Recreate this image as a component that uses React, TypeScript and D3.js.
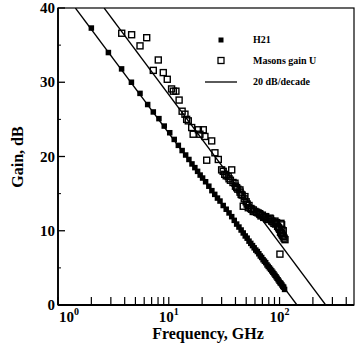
import React, { useRef, useEffect } from "react";
import * as d3 from "d3";

// |H21| measured points (GHz, dB)
const h21Freq = [2.0, 2.85, 3.75, 4.6, 5.5, 6.45, 7.25, 8.15, 9.1, 10.2, 11.2, 12.2, 13.2, 14.2, 15.2, 16.2, 17.2, 18.2, 19.2, 20.2,
  21.5, 23, 24.5, 26, 27.5, 29, 31, 33, 35, 37, 39, 41, 43, 45, 47, 49, 51, 53, 55, 57, 59, 61, 63, 65, 67, 69, 71, 73, 75, 77,
  79, 81, 83, 85, 87, 89, 91, 93, 95, 97, 99, 101, 103, 105, 107, 109, 111];
const h21Gain = [37.3, 34.0, 31.8, 30.0, 28.5, 27.0, 26.0, 25.1, 24.1, 23.2, 22.3, 21.5, 20.8, 20.2, 19.6, 19.0, 18.5, 18.0, 17.5, 17.1,
  16.6, 16.0, 15.4, 14.9, 14.4, 14.0, 13.4, 12.9, 12.4, 11.9, 11.4, 10.9, 10.5, 10.1, 9.7, 9.3, 9.0, 8.6, 8.3, 8.0, 7.7, 7.4, 7.2, 6.9, 6.6, 6.4, 6.1, 5.9, 5.7, 5.4,
  5.2, 5.0, 4.8, 4.6, 4.4, 4.2, 4.0, 3.8, 3.6, 3.4, 3.2, 3.0, 2.9, 2.7, 2.5, 2.4, 2.1];

// Mason's unilateral gain U (GHz, dB)
const uFreq = [3.76, 4.62, 5.5, 6.32, 7.25, 8.04, 8.92, 9.69, 10.6, 11.0, 11.6, 12.4, 13.2, 14.0, 14.5, 15.0, 16.1, 16.6, 18.5, 19.1,
  20.5, 21.2, 22.0, 24.4, 26.1, 28.0, 30.0, 31, 32, 33, 34.4, 35, 36, 37.0, 38, 39.6, 40, 41, 42, 43.9, 44, 45, 46, 47.0, 48, 48.7,
  50, 51, 52.2, 53, 55, 56, 57.9, 58, 60, 62, 64, 66, 66.6, 68, 70, 72, 73.8, 75, 77, 79, 81.9, 83, 85, 87, 89, 90.9, 92, 94,
  96, 98, 100, 100.8, 102, 103, 104, 104.4, 105, 106, 108, 108, 110, 112];
const uGain = [36.6, 36.4, 34.9, 36.0, 31.6, 33.0, 31.3, 30.4, 29.1, 28.8, 28.8, 27.6, 26.1, 25.7, 25.0, 24.8, 23.9, 23.0, 23.6, 23.0,
  23.6, 22.7, 19.5, 22.1, 20.5, 19.6, 18.2, 18.0, 17.6, 17.4, 17.3, 17.0, 16.8, 18.2, 16.5, 16.4, 16.0, 15.8, 15.6, 15.5, 15.2, 14.9, 14.8, 13.3, 14.3, 14.6,
  13.9, 13.6, 13.1, 13.4, 13.0, 12.9, 12.6, 12.8, 12.6, 12.5, 12.4, 12.3, 12.2, 12.0, 12.1, 11.8, 11.9, 11.9, 11.6, 11.5, 11.7, 11.6, 11.3, 11.2, 11.0, 11.3, 10.9, 11.1,
  10.6, 10.4, 10.2, 6.85, 9.8, 11.0, 9.6, 10.8, 10.1, 9.4, 9.2, 10.0, 9.0, 8.8];

// 20 dB/decade lines: frequency where each reaches 0 dB
const fitCutoffs = [143.6, 261];
const yTicks = [0, 10, 20, 30, 40];
const yMinorTicks = [5, 15, 25, 35];
const xDecades = [0, 1, 2];

const font = "'Liberation Serif', 'Times New Roman', serif";

const App = () => {
  const svgRef = useRef(null);
  const width = 356;
  const height = 348;
  const left = 58, right = 354, top = 8, bottom = 305;

  useEffect(() => {
    const svg = d3.select(svgRef.current);
    svg.selectAll("*").remove();

    const x = d3.scaleLog().domain([1, 470]).range([left, right]);
    const y = d3.scaleLinear().domain([0, 40]).range([bottom, top]);

    svg.append("clipPath").attr("id", "plotclip")
      .append("rect").attr("x", left).attr("y", top).attr("width", right - left).attr("height", bottom - top);

    // frame
    svg.append("rect")
      .attr("x", left).attr("y", top).attr("width", right - left).attr("height", bottom - top)
      .attr("fill", "none").attr("stroke", "#000").attr("stroke-width", 1.2);
    svg.append("line").attr("x1", left).attr("x2", left).attr("y1", top).attr("y2", bottom)
      .attr("stroke", "#000").attr("stroke-width", 1.8);
    svg.append("line").attr("x1", left).attr("x2", right).attr("y1", bottom).attr("y2", bottom)
      .attr("stroke", "#000").attr("stroke-width", 1.8);

    // y ticks
    const gy = svg.append("g");
    gy.selectAll("line.major").data(yTicks).join("line")
      .attr("x1", left).attr("x2", left + 7).attr("y1", d => y(d)).attr("y2", d => y(d))
      .attr("stroke", "#000").attr("stroke-width", 1.3);
    gy.selectAll("line.minor").data(yMinorTicks).join("line").attr("class", "minor")
      .attr("x1", left).attr("x2", left + 3).attr("y1", d => y(d)).attr("y2", d => y(d))
      .attr("stroke", "#000").attr("stroke-width", 1);
    gy.selectAll("text").data(yTicks).join("text")
      .attr("x", left - 3).attr("y", d => y(d) + 5)
      .attr("text-anchor", "end").attr("font-family", font).attr("font-weight", "bold").attr("font-size", 15)
      .text(d => d);

    // x ticks
    const xTickVals: number[] = [];
    xDecades.forEach(dec => {
      for (let k = 1; k <= 9; k++) {
        const v = k * Math.pow(10, dec);
        if (v <= 470) xTickVals.push(v);
      }
    });
    svg.append("g").selectAll("line").data(xTickVals).join("line")
      .attr("x1", d => x(d)).attr("x2", d => x(d)).attr("y1", bottom).attr("y2", bottom - 8)
      .attr("stroke", "#000").attr("stroke-width", 1.2);

    const xl = svg.append("g").selectAll("text").data(xDecades).join("text")
      .attr("x", (d, i) => x(Math.pow(10, d)) + (i === 0 ? 11 : 0))
      .attr("y", 322)
      .attr("text-anchor", "middle").attr("font-family", font).attr("font-weight", "bold").attr("font-size", 15);
    xl.append("tspan").text("10");
    xl.append("tspan").attr("dy", -7).attr("font-size", 10).text(d => d);

    // axis titles
    svg.append("text").attr("x", 208).attr("y", 339).attr("text-anchor", "middle")
      .attr("font-family", font).attr("font-weight", "bold").attr("font-size", 16)
      .text("Frequency, GHz");
    svg.append("text").attr("transform", "translate(23,157) rotate(-90)").attr("text-anchor", "middle")
      .attr("font-family", font).attr("font-weight", "bold").attr("font-size", 16)
      .text("Gain, dB");

    const plot = svg.append("g").attr("clip-path", "url(#plotclip)");

    // 20 dB/decade lines
    const line = d3.line<[number, number]>().x(d => x(d[0])).y(d => y(d[1]));
    fitCutoffs.forEach(fc => {
      const pts: [number, number][] = [[fc / 100, 40], [fc, 0]];
      plot.append("path").attr("d", line(pts)).attr("fill", "none")
        .attr("stroke", "#000").attr("stroke-width", 1.3);
    });

    // Mason's U (open squares)
    const s1 = 6;
    plot.append("g").selectAll("rect").data(uFreq).join("rect")
      .attr("x", d => x(d) - s1 / 2).attr("y", (d, i) => y(uGain[i]) - s1 / 2)
      .attr("width", s1).attr("height", s1)
      .attr("fill", "none").attr("stroke", "#000").attr("stroke-width", 1.4);

    // H21 (filled squares)
    const s2 = 5.5;
    plot.append("g").selectAll("rect").data(h21Freq).join("rect")
      .attr("x", d => x(d) - s2 / 2).attr("y", (d, i) => y(h21Gain[i]) - s2 / 2)
      .attr("width", s2).attr("height", s2).attr("fill", "#000");

    // legend
    const lg = svg.append("g").attr("font-family", font).attr("font-weight", "bold").attr("font-size", 10);
    lg.append("rect").attr("x", 218.5).attr("y", 37.5).attr("width", 5).attr("height", 5).attr("fill", "#000");
    lg.append("text").attr("x", 253).attr("y", 42.5).text("H21");
    lg.append("rect").attr("x", 218).attr("y", 57.5).attr("width", 6).attr("height", 6)
      .attr("fill", "none").attr("stroke", "#000").attr("stroke-width", 1.3);
    lg.append("text").attr("x", 253).attr("y", 64).text("Masons gain U");
    lg.append("line").attr("x1", 205).attr("x2", 237).attr("y1", 82).attr("y2", 82)
      .attr("stroke", "#000").attr("stroke-width", 1.3);
    lg.append("text").attr("x", 253).attr("y", 85).text("20 dB/decade");
  }, []);

  return (
    <svg ref={svgRef} width={width} height={height}
      style={{ position: "absolute", left: 0, top: 0, background: "#fff" }} />
  );
};

export default App;
